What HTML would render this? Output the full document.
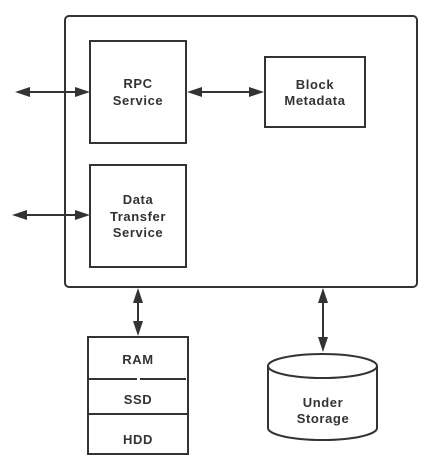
<!DOCTYPE html>
<html><head><style>
html,body{margin:0;padding:0;background:#fff;}
svg{display:block;}
text{font-family:"Liberation Sans","DejaVu Sans",sans-serif;font-weight:bold;font-size:13px;fill:#333;text-anchor:middle;letter-spacing:0.6px;}
</style></head><body>
<svg width="434" height="471" viewBox="0 0 434 471" xmlns="http://www.w3.org/2000/svg">
<g stroke="#333" stroke-width="2" fill="none">
<rect x="65" y="16" width="352" height="271" rx="4"/>
<rect x="90" y="41" width="96" height="102"/>
<rect x="265" y="57" width="100" height="70"/>
<rect x="90" y="165" width="96" height="102"/>
<rect x="88" y="337" width="100" height="117"/>
<line x1="88" y1="379" x2="137" y2="379"/>
<line x1="140" y1="379" x2="186" y2="379"/>
<line x1="88" y1="414" x2="188" y2="414"/>
<path d="M268 366 L268 428 A54.5 12 0 0 0 377 428 L377 366"/>
<ellipse cx="322.5" cy="366" rx="54.5" ry="12"/>
<line x1="28" y1="92" x2="78" y2="92"/>
<line x1="24" y1="215" x2="76" y2="215"/>
<line x1="200" y1="92" x2="250" y2="92"/>
<line x1="138" y1="302" x2="138" y2="322"/>
<line x1="323" y1="302" x2="323" y2="338"/>
</g>
<g fill="#333">
<polygon points="15,92 30,87 30,97"/>
<polygon points="90,92 75,87 75,97"/>
<polygon points="12,215 27,210 27,220"/>
<polygon points="90,215 75,210 75,220"/>
<polygon points="187,92 202,87 202,97"/>
<polygon points="264,92 249,87 249,97"/>
<polygon points="138,288 133,303 143,303"/>
<polygon points="138,336 133,321 143,321"/>
<polygon points="323,288 318,303 328,303"/>
<polygon points="323,352 318,337 328,337"/>
</g>
<text x="138" y="88">RPC</text>
<text x="138" y="105">Service</text>
<text x="315" y="89">Block</text>
<text x="315" y="105">Metadata</text>
<text x="138" y="204">Data</text>
<text x="138" y="221">Transfer</text>
<text x="138" y="237">Service</text>
<text x="138" y="364">RAM</text>
<text x="138" y="404">SSD</text>
<text x="138" y="444">HDD</text>
<text x="323" y="407">Under</text>
<text x="323" y="423">Storage</text>
</svg>
</body></html>
